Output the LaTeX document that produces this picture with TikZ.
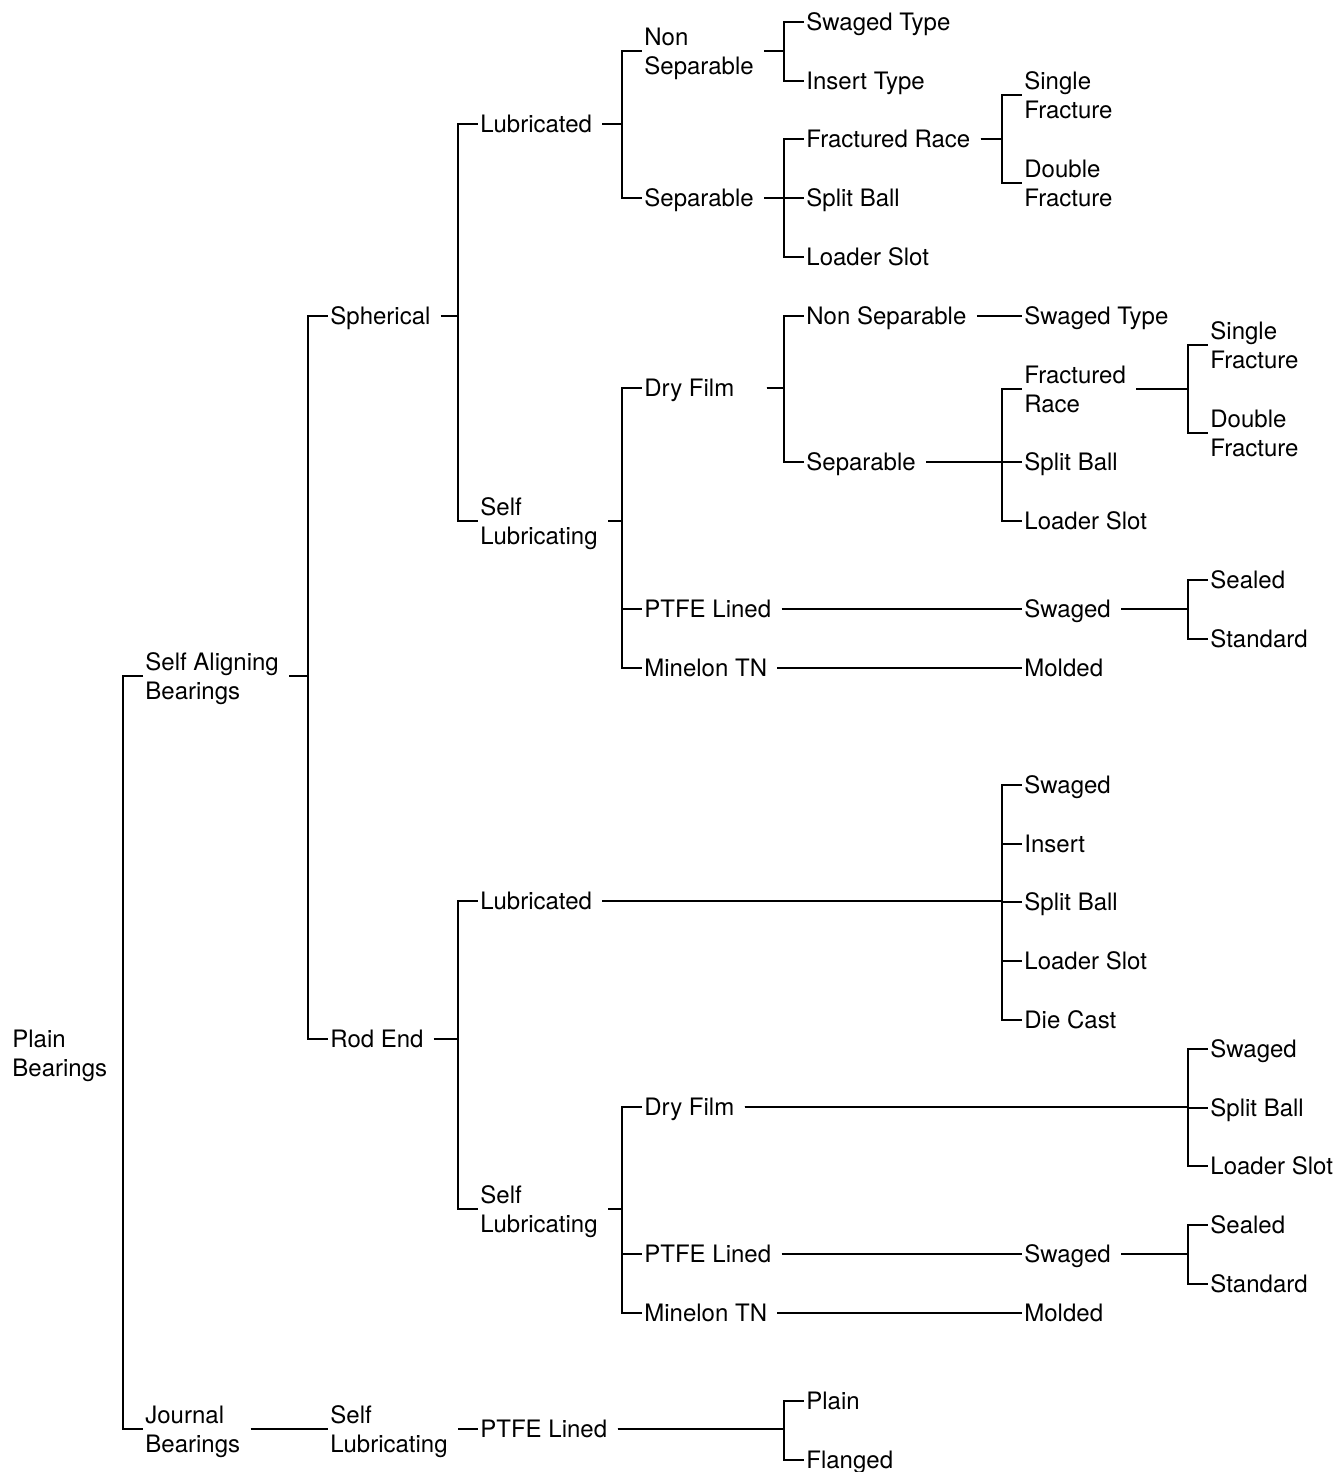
\documentclass[tikz,border=0pt]{standalone}
\usepackage{fontspec}
\setmainfont{TeX Gyre Heros}

\begin{document}
\begin{tikzpicture}[
    x=0.5pt, y=-0.5pt,
    font=\fontsize{12}{14.5}\selectfont,
    term/.style={anchor=west,inner xsep=1pt,inner ysep=0pt,text height=8.6pt,text depth=0pt},
    twoline/.style={anchor=west,inner xsep=1pt,inner ysep=0pt,align=left,text depth=0pt},
    line/.style={line width=0.75pt}
]
\useasboundingbox (0,0) rectangle (1335,1472);

% Root
\node[twoline] (root) at (10,1053) {Plain\\Bearings};

% Bearing families
\node[twoline] (sab) at (143,676) {Self Aligning\\Bearings};
\node[twoline] (jb) at (143,1429) {Journal\\Bearings};

% Types
\node[term] (sph) at (328,316) {Spherical};
\node[term] (rod) at (328,1039) {Rod End};
\node[twoline] (jsl) at (328,1429) {Self\\Lubricating};

% Lubrication
\node[term] (slub) at (478,124) {Lubricated};
\node[twoline] (sself) at (478,521) {Self\\Lubricating};
\node[term] (rlub) at (478,901) {Lubricated};
\node[twoline] (rself) at (478,1209) {Self\\Lubricating};
\node[term] (jptfe) at (478,1429) {PTFE Lined};

% Spherical, column 4
\node[twoline] (snon) at (642,51) {Non\\Separable};
\node[term] (ssep) at (642,198) {Separable};
\node[term] (sdry) at (642,388) {Dry Film};
\node[term] (sptfe) at (642,609) {PTFE Lined};
\node[term] (smin) at (642,668) {Minelon TN};

% Rod end, column 4
\node[term] (rdry) at (642,1107) {Dry Film};
\node[term] (rptfe) at (642,1254) {PTFE Lined};
\node[term] (rmin) at (642,1313) {Minelon TN};

% Column 5
\node[term] (sswt) at (804,22) {Swaged Type};
\node[term] (sint) at (804,81) {Insert Type};
\node[term] (sfr) at (804,139) {Fractured Race};
\node[term] (ssb) at (804,198) {Split Ball};
\node[term] (sls) at (804,257) {Loader Slot};
\node[term] (dnon) at (804,316) {Non Separable};
\node[term] (dsep) at (804,462) {Separable};
\node[term] (jplain) at (804,1401) {Plain};
\node[term] (jflan) at (804,1460) {Flanged};

% Column 6
\node[twoline] (ssf) at (1022,95) {Single\\Fracture};
\node[twoline] (sdf) at (1022,183) {Double\\Fracture};
\node[term] (dswt) at (1022,316) {Swaged Type};
\node[twoline] (dfr) at (1022,389) {Fractured\\Race};
\node[term] (dsb) at (1022,462) {Split Ball};
\node[term] (dls) at (1022,521) {Loader Slot};
\node[term] (sswg) at (1022,609) {Swaged};
\node[term] (smol) at (1022,668) {Molded};
\node[term] (rsw) at (1022,785) {Swaged};
\node[term] (rins) at (1022,844) {Insert};
\node[term] (rsb) at (1022,902) {Split Ball};
\node[term] (rls) at (1022,961) {Loader Slot};
\node[term] (rdc) at (1022,1020) {Die Cast};
\node[term] (rswg) at (1022,1254) {Swaged};
\node[term] (rmol) at (1022,1313) {Molded};

% Column 7
\node[twoline] (dsf) at (1208,345) {Single\\Fracture};
\node[twoline] (ddf) at (1208,433) {Double\\Fracture};
\node[term] (ssea) at (1208,580) {Sealed};
\node[term] (sstd) at (1208,639) {Standard};
\node[term] (rdsw) at (1208,1049) {Swaged};
\node[term] (rdsb) at (1208,1108) {Split Ball};
\node[term] (rdls) at (1208,1166) {Loader Slot};
\node[term] (rsea) at (1208,1225) {Sealed};
\node[term] (rstd) at (1208,1284) {Standard};

% Root (no stub)
\draw[line] (sab.west) -- ++(-10pt,0) |- (jb.west);

% Families
\draw[line] ([xshift=4pt]sab.east) -| ([xshift=-10pt]sph.west) -- (sph.west);
\draw[line] ([xshift=4pt]sab.east) -| ([xshift=-10pt]rod.west) -- (rod.west);
\draw[line] ([xshift=4pt]jb.east) -- (jsl.west);

% Types
\draw[line] ([xshift=4pt]sph.east) -| ([xshift=-10pt]slub.west) -- (slub.west);
\draw[line] ([xshift=4pt]sph.east) -| ([xshift=-10pt]sself.west) -- (sself.west);
\draw[line] ([xshift=4pt]rod.east) -| ([xshift=-10pt]rlub.west) -- (rlub.west);
\draw[line] ([xshift=4pt]rod.east) -| ([xshift=-10pt]rself.west) -- (rself.west);
\draw[line] ([xshift=4pt]jsl.east) -- (jptfe.west);

% Spherical lubrication
\draw[line] ([xshift=4pt]slub.east) -| ([xshift=-10pt]snon.west) -- (snon.west);
\draw[line] ([xshift=4pt]slub.east) -| ([xshift=-10pt]ssep.west) -- (ssep.west);
\draw[line] ([xshift=4pt]sself.east) -| ([xshift=-10pt]sdry.west) -- (sdry.west);
\draw[line] ([xshift=4pt]sself.east) -| ([xshift=-10pt]sptfe.west) -- (sptfe.west);
\draw[line] ([xshift=4pt]sself.east) -| ([xshift=-10pt]smin.west) -- (smin.west);

% Rod end lubrication
\draw[line] ([xshift=4pt]rlub.east) -| ([xshift=-10pt]rsw.west) -- (rsw.west);
\draw[line] ([xshift=4pt]rlub.east) -| ([xshift=-10pt]rins.west) -- (rins.west);
\draw[line] ([xshift=4pt]rlub.east) -| ([xshift=-10pt]rsb.west) -- (rsb.west);
\draw[line] ([xshift=4pt]rlub.east) -| ([xshift=-10pt]rls.west) -- (rls.west);
\draw[line] ([xshift=4pt]rlub.east) -| ([xshift=-10pt]rdc.west) -- (rdc.west);
\draw[line] ([xshift=4pt]rself.east) -| ([xshift=-10pt]rdry.west) -- (rdry.west);
\draw[line] ([xshift=4pt]rself.east) -| ([xshift=-10pt]rptfe.west) -- (rptfe.west);
\draw[line] ([xshift=4pt]rself.east) -| ([xshift=-10pt]rmin.west) -- (rmin.west);

% Journal
\draw[line] ([xshift=4pt]jptfe.east) -| ([xshift=-10pt]jplain.west) -- (jplain.west);
\draw[line] ([xshift=4pt]jptfe.east) -| ([xshift=-10pt]jflan.west) -- (jflan.west);

% Spherical, column 4 -> 5
\draw[line] ([xshift=4pt]snon.east) -| ([xshift=-10pt]sswt.west) -- (sswt.west);
\draw[line] ([xshift=4pt]snon.east) -| ([xshift=-10pt]sint.west) -- (sint.west);
\draw[line] ([xshift=4pt]ssep.east) -| ([xshift=-10pt]sfr.west) -- (sfr.west);
\draw[line] ([xshift=4pt]ssep.east) -| ([xshift=-10pt]ssb.west) -- (ssb.west);
\draw[line] ([xshift=4pt]ssep.east) -| ([xshift=-10pt]sls.west) -- (sls.west);
\draw[line] ([xshift=15pt]sdry.east) -| ([xshift=-10pt]dnon.west) -- (dnon.west);
\draw[line] ([xshift=15pt]sdry.east) -| ([xshift=-10pt]dsep.west) -- (dsep.west);
\draw[line] ([xshift=4pt]sptfe.east) -- (sswg.west);
\draw[line] ([xshift=4pt]smin.east) -- (smol.west);

% Rod end, column 4 -> 7
\draw[line] ([xshift=4pt]rdry.east) -| ([xshift=-10pt]rdsw.west) -- (rdsw.west);
\draw[line] ([xshift=4pt]rdry.east) -| ([xshift=-10pt]rdsb.west) -- (rdsb.west);
\draw[line] ([xshift=4pt]rdry.east) -| ([xshift=-10pt]rdls.west) -- (rdls.west);
\draw[line] ([xshift=4pt]rptfe.east) -- (rswg.west);
\draw[line] ([xshift=4pt]rmin.east) -- (rmol.west);

% Column 5 -> 6
\draw[line] ([xshift=4pt]sfr.east) -| ([xshift=-10pt]ssf.west) -- (ssf.west);
\draw[line] ([xshift=4pt]sfr.east) -| ([xshift=-10pt]sdf.west) -- (sdf.west);
\draw[line] ([xshift=4pt]dnon.east) -- (dswt.west);
\draw[line] ([xshift=4pt]dsep.east) -| ([xshift=-10pt]dfr.west) -- (dfr.west);
\draw[line] ([xshift=4pt]dsep.east) -| ([xshift=-10pt]dsb.west) -- (dsb.west);
\draw[line] ([xshift=4pt]dsep.east) -| ([xshift=-10pt]dls.west) -- (dls.west);

% Column 6 -> 7
\draw[line] ([xshift=4pt]dfr.east) -| ([xshift=-10pt]dsf.west) -- (dsf.west);
\draw[line] ([xshift=4pt]dfr.east) -| ([xshift=-10pt]ddf.west) -- (ddf.west);
\draw[line] ([xshift=4pt]sswg.east) -| ([xshift=-10pt]ssea.west) -- (ssea.west);
\draw[line] ([xshift=4pt]sswg.east) -| ([xshift=-10pt]sstd.west) -- (sstd.west);
\draw[line] ([xshift=4pt]rswg.east) -| ([xshift=-10pt]rsea.west) -- (rsea.west);
\draw[line] ([xshift=4pt]rswg.east) -| ([xshift=-10pt]rstd.west) -- (rstd.west);

\end{tikzpicture}
\end{document}
